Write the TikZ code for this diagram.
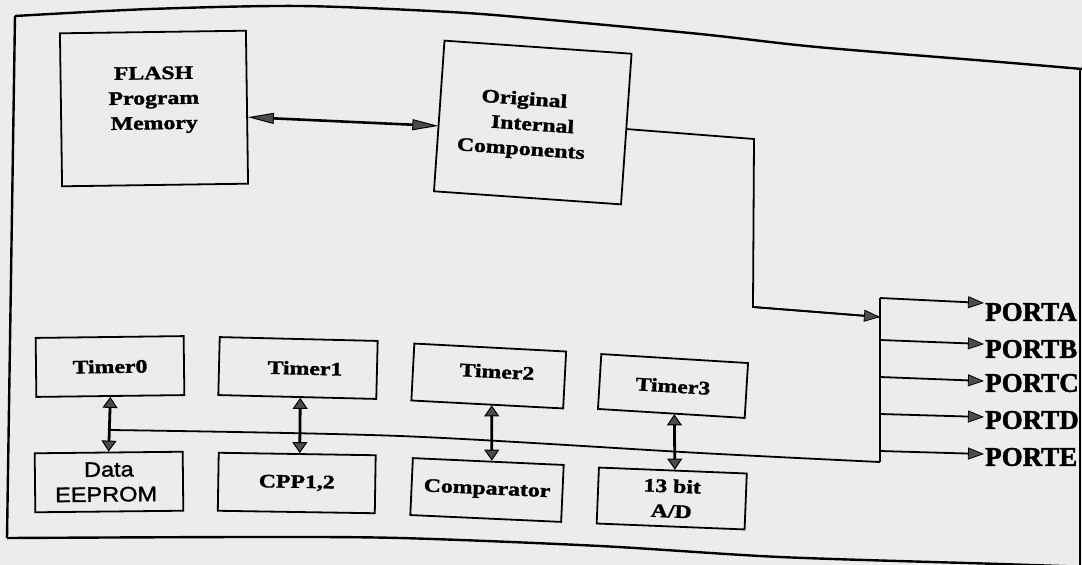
\documentclass[tikz,border=0pt]{standalone}
\usepackage{fontspec}
\setmainfont{Liberation Serif}
\newfontfamily\boxfont{Liberation Serif}[FakeStretch=1.25,FakeBold=1.6]
\newfontfamily\eefont{Liberation Sans}[FakeStretch=1.12,FakeBold=1.4]
\newfontfamily\portfont{Liberation Serif}[FakeBold=1.6]
\usetikzlibrary{arrows.meta,calc}
\definecolor{paper}{HTML}{ECECEC}
\definecolor{headgray}{HTML}{4C4C4C}
\newcommand{\lowstrut}[1]{\rule[-#1]{0pt}{0pt}}
\begin{document}
\begin{tikzpicture}[x=1pt,y=-1pt,
  blk/.style={draw=black, line width=1.8pt, inner sep=0pt, align=center,
    font=\boxfont\bfseries\fontsize{19}{25}\selectfont},
  eeblk/.style={blk, font=\eefont\fontsize{21}{25}\selectfont},
  portlbl/.style={anchor=west, inner sep=1pt, font=\portfont\bfseries\fontsize{27}{30}\selectfont},
  frameline/.style={line width=2.4pt, line join=round},
  wire/.style={line width=1.8pt, line join=miter},
  biarrow/.style={line width=2.8pt,
    {Triangle[length=11pt,width=15pt,fill=headgray,line width=1pt]}-{Triangle[length=11pt,width=15pt,fill=headgray,line width=1pt]}},
  bigbiarrow/.style={line width=2.6pt,
    {Triangle[length=26pt,width=11pt,fill=headgray,line width=1pt]}-{Triangle[length=26pt,width=11pt,fill=headgray,line width=1pt]}},
  portarrow/.style={line width=1.8pt, -{Triangle[length=16pt,width=12pt,fill=headgray,line width=0.8pt]}},
]
\useasboundingbox (0,0) rectangle (1082,565);
\fill[paper] (0,0) rectangle (1082,565);

% outer frame
\draw[frameline] plot[smooth, tension=0.5] coordinates {(15,16) (150,9) (300,6) (450,12) (540,19) (700,34) (817,47) (1000,62) (1082,69)};
\draw[frameline] (15,16) -- (7,538);
\draw[frameline] plot[smooth, tension=0.5] coordinates {(7,538) (250,537) (400,538) (600,546) (780,557) (1000,564) (1090,567)};
\draw[frameline] (1080,70) -- (1080,566);

% upper blocks
\node[blk, minimum width=186pt, minimum height=153pt, rotate=0.8] (fl) at (154,108.5)
  {FLASH\\Program\\Memory\lowstrut{21pt}};
\node[blk, minimum width=187.5pt, minimum height=151pt, rotate=-4] (oi) at (532.75,122.5)
  {\rule{0pt}{20pt}Original\hspace*{20pt}\\Internal\hspace*{20pt}\\Components\hspace*{20pt}};

% lower blocks
\node[blk, minimum width=148pt, minimum height=59pt, rotate=0.7] (t0) at (110,366.5) {Timer0};
\node[eeblk, minimum width=148pt, minimum height=59pt, rotate=0.6] (d0) at (109,482) {Data\\EEPROM\hspace*{6pt}};
\node[blk, minimum width=158pt, minimum height=58pt, rotate=-1.4] (t1) at (298,368) {\hspace*{14pt}Timer1};
\node[blk, minimum width=157pt, minimum height=58pt, rotate=-0.9] (cp) at (296.75,483) {CPP1,2};
\node[blk, minimum width=152pt, minimum height=57pt, rotate=-3] (t2) at (488.75,376) {\hspace*{16pt}Timer2\lowstrut{10pt}};
\node[blk, minimum width=151pt, minimum height=57pt, rotate=-2.6] (cm) at (487,490) {Comparator};
\node[blk, minimum width=147pt, minimum height=55pt, rotate=-3.5] (t3) at (673,386) {Timer3};
\node[blk, minimum width=148pt, minimum height=56pt, rotate=-2.3] (ad) at (671.75,498.5) {13 bit\\A/D};

% port labels
\node[portlbl] (pA) at (984,312) {PORTA};
\node[portlbl] (pB) at (984,349) {PORTB};
\node[portlbl] (pC) at (984,383) {PORTC};
\node[portlbl] (pD) at (984,420) {PORTD};
\node[portlbl] (pE) at (984,457) {PORTE};

% helper coordinates
\coordinate (c1) at (754,139);
\coordinate (c2) at (753,307);
\coordinate (dIn) at (880,317);
\coordinate (b0) at (110,430);
\coordinate (dTop) at (880,298);
\coordinate (dBot) at (880,462);
\coordinate (dB) at (880,340);
\coordinate (dC) at (880,377);
\coordinate (dD) at (880,414);
\coordinate (dE) at (880,451);

% connectors
\draw[bigbiarrow] ([yshift=-10pt]fl.east) -- ([yshift=-10pt]oi.west);
\draw[wire] (oi.east) -- (c1) -- (c2) -- (dIn);
\draw[portarrow] (c2) -- (dIn);

\draw[biarrow] (t0.south) -- (d0.north);
\draw[biarrow] ([xshift=3pt]t1.south) -- ([xshift=2.5pt]cp.north);
\draw[biarrow] ([xshift=4.5pt]t2.south) -- ([xshift=3.5pt]cm.north);
\draw[biarrow] ([xshift=3pt]t3.south) -- ([xshift=2pt]ad.north);

\draw[wire] plot[smooth, tension=0.5] coordinates {(b0) (400,436) (700,453) (dBot)};
\draw[wire] (dTop) -- (dBot);

\draw[portarrow] (dTop) -- ([yshift=9pt]pA.west);
\draw[portarrow] (dB) -- ([yshift=5pt]pB.west);
\draw[portarrow] (dC) -- ([yshift=2pt]pC.west);
\draw[portarrow] (dD) -- ([yshift=3pt]pD.west);
\draw[portarrow] (dE) -- ([yshift=3pt]pE.west);
\end{tikzpicture}
\end{document}
